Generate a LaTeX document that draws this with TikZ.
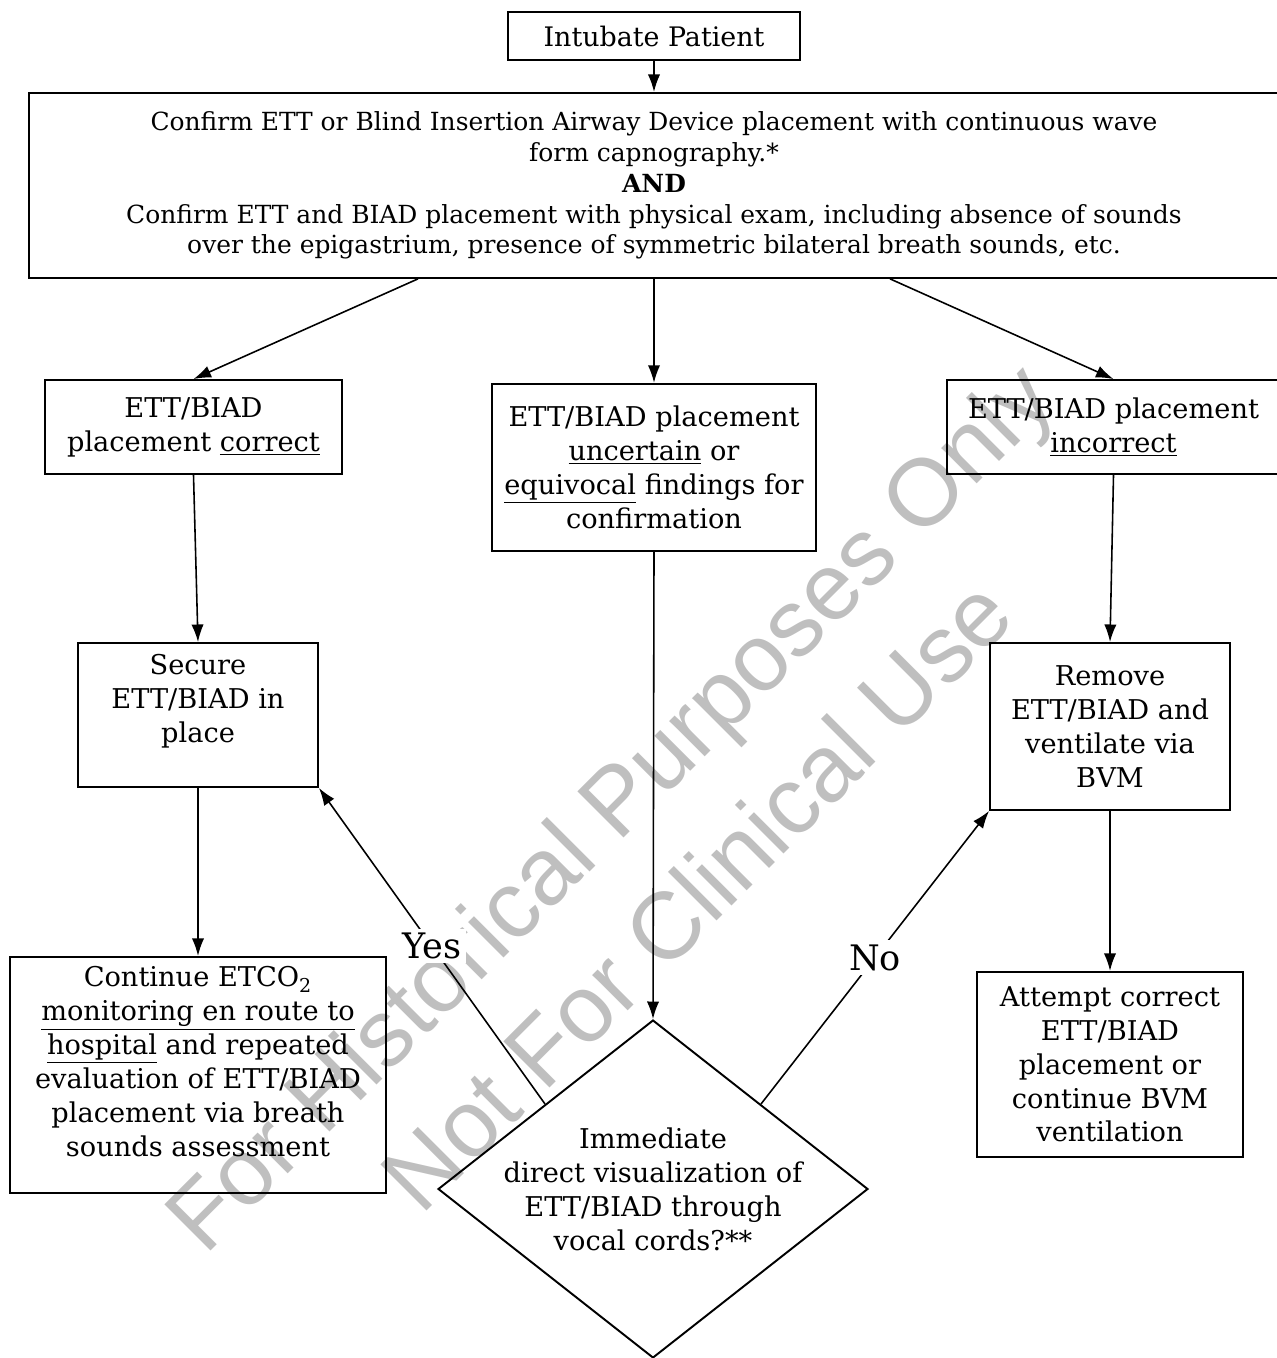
\documentclass[tikz,border=0pt]{standalone}
\usepackage{fontspec}
\setmainfont{DejaVu Serif}
\newfontfamily\markfont{Liberation Sans}
\usetikzlibrary{positioning,shapes.geometric,arrows.meta,calc}

\newcommand{\titlefont}{\fontsize{15.3}{18}\selectfont}
\newcommand{\topfont}{\fontsize{14.2}{17.6}\selectfont}
\newcommand{\boxfont}{\fontsize{15.5}{19.3}\selectfont}

\tikzset{
  box/.style={draw, line width=1.1pt, align=center, inner sep=2pt},
  flow/.style={-{Latex[length=10pt,width=7pt]}, line width=0.9pt},
  tag/.style={fill=white, inner sep=2.5pt, font=\fontsize{20}{24}\selectfont}
}

\begin{document}
\begin{tikzpicture}
[x=0.02cm, y=-0.02cm]
\useasboundingbox (0,0) rectangle (1276,1358);

% watermark underneath
\node (mark) [rotate=45, align=center, text=black!25, font=\markfont\fontsize{54}{71}\selectfont] at (652,850) {For Historical Purposes Only\\Not For Clinical Use};

\node (intubate) [box, font=\titlefont, minimum width=5.84cm, minimum height=0.96cm] at (654,36) {Intubate Patient};
\node (confirm) [box, font=\topfont, minimum width=25cm, minimum height=3.7cm, below=0.62cm of intubate] {Confirm ETT or Blind Insertion Airway Device placement with continuous wave\\ form capnography.*\\ \textbf{AND}\\ Confirm ETT and BIAD placement with physical exam, including absence of sounds\\ over the epigastrium, presence of symmetric bilateral breath sounds, etc.};

\node (correct) [box, font=\boxfont, minimum width=5.94cm, minimum height=1.88cm] at (193.5,427) {ETT/BIAD\\ placement \underline{correct}};
\node (uncertain) [box, font=\boxfont, minimum width=6.48cm, minimum height=3.34cm, below=2.08cm of confirm] {ETT/BIAD placement\\ \underline{uncertain} or\\ \underline{equivocal} findings for\\ confirmation};
\node (incorrect) [box, font=\boxfont, minimum width=6.66cm, minimum height=1.88cm] at (1113.5,427) {ETT/BIAD placement\\ \underline{incorrect}};

\node (secure) [box, font=\boxfont, minimum width=4.8cm, minimum height=2.88cm] at (198,715) {Secure\\ ETT/BIAD in\\ place\\ \mbox{}};
\node (monitor) [box, font=\boxfont, minimum width=7.52cm, minimum height=4.72cm, below=3.36cm of secure] {Continue ETCO\textsubscript{2}\\ \underline{monitoring en route to}\\ \underline{hospital} and repeated\\ evaluation of ETT/BIAD\\ placement via breath\\ sounds assessment\\[-4pt] \mbox{}};

\node (remove) [box, font=\boxfont, minimum width=4.8cm, minimum height=3.34cm] at (1110,726.5) {Remove\\ ETT/BIAD and\\ ventilate via\\ BVM};
\node (reattempt) [box, font=\boxfont, minimum width=5.32cm, minimum height=3.7cm, below=3.2cm of remove] {Attempt correct\\ ETT/BIAD\\ placement or\\ continue BVM\\ ventilation};

\node (visual) [diamond, draw, line width=1.1pt, inner sep=0pt, minimum width=8.6cm, minimum height=6.76cm] at (653,1189) {};
\node (visualtext) [align=center, font=\boxfont] at (visual) {Immediate\\ direct visualization of\\ ETT/BIAD through\\ vocal cords?**};

\draw[flow] (intubate) -- (confirm);
\draw[flow] ($(confirm.south)+(-236,0)$) -- (correct.north);
\draw[flow] (confirm.south) -- (uncertain.north);
\draw[flow] ($(confirm.south)+(236,0)$) -- (incorrect.north);
\draw[flow] (correct.south) -- (secure.north);
\draw[flow] (uncertain.south) -- (visual.north);
\draw[flow] (incorrect.south) -- (remove.north);
\draw[flow] (secure) -- (monitor);
\draw[flow] (remove) -- (reattempt);
\draw[flow] (visual.north west) -- node[tag] {Yes} (secure.south east);
\draw[flow] (visual.north east) -- node[tag] {No} (remove.south west);

\end{tikzpicture}
\end{document}
